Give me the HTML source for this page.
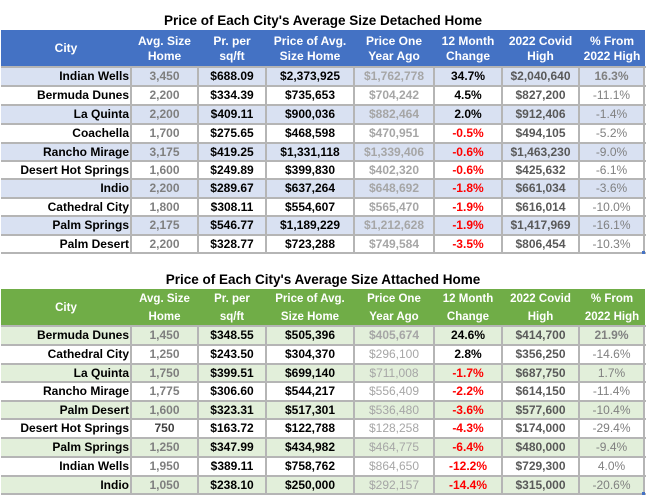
<!DOCTYPE html>
<html><head><meta charset="utf-8">
<style>
html,body{margin:0;padding:0}
body{width:647px;height:498px;background:#fff;position:relative;overflow:hidden;font-family:"Liberation Sans",Arial,sans-serif;}
.t{position:absolute;left:1px;width:644px;text-align:center;font-weight:bold;font-size:13.5px;line-height:16px;color:#000;white-space:nowrap}
.hdr{position:absolute;left:1px;width:644px;height:37px}
.hdr div{position:absolute;top:0;height:37px;display:flex;align-items:center;justify-content:center;text-align:center;color:#fff;font-weight:bold;white-space:nowrap}
.h1 div{font-size:12px;line-height:15px}
.h2 div{font-size:11.5px;line-height:17.5px;padding-top:2px;height:35px}
.r{position:absolute;left:1px;width:644px;font-size:12px;font-weight:bold}
.r span{position:absolute;top:0;text-align:center;white-space:nowrap}
.c0{left:0;width:128px;text-align:right!important;color:#000}
.c1{left:130px;width:67px;color:#7f7f7f}
.c2{left:197px;width:68px;color:#000}
.c3{left:265px;width:88px;color:#000}
.c4{left:353px;width:80px;color:#a6a6a6}
.c5{left:433px;width:68px;color:#000}
.c6{left:501px;width:77px;color:#595959}
.c7{left:578px;width:65px;color:#808080;font-weight:normal}
.neg{color:#ff0000!important}
.b{font-weight:bold!important}
.n{font-weight:normal!important}
.bl{background:#d9e1f2}
.gr{background:#e2efda}
.h{position:absolute;left:1px;width:645px;height:2px;background:#b5b5b5}
.v{position:absolute;width:2px;background:#b5b5b5}
.dot{position:absolute;width:3px;height:3px;background:#4472c4}
</style></head><body>

<div class="t" style="top:13px">Price of Each City's Average Size Detached Home</div>

<div class="hdr h1" style="top:30px;background:#4472c4">
<div style="left:0;width:130px">City</div>
<div style="left:130px;width:67px">Avg. Size<br>Home</div>
<div style="left:197px;width:68px">Pr. per<br>sq/ft</div>
<div style="left:265px;width:88px">Price of Avg.<br>Size Home</div>
<div style="left:353px;width:80px">Price One<br>Year Ago</div>
<div style="left:433px;width:68px">12 Month<br>Change</div>
<div style="left:501px;width:77px">2022 Covid<br>High</div>
<div style="left:578px;width:66px">% From<br>2022 High</div>
</div>

<div class="r bl" style="top:67px;height:19px;line-height:19px"><span class="c0">Indian Wells</span><span class="c1">3,450</span><span class="c2">$688.09</span><span class="c3">$2,373,925</span><span class="c4">$1,762,778</span><span class="c5">34.7%</span><span class="c6">$2,040,640</span><span class="c7 b">16.3%</span></div>
<div class="r" style="top:86px;height:19px;line-height:19px"><span class="c0">Bermuda Dunes</span><span class="c1">2,200</span><span class="c2">$334.39</span><span class="c3">$735,653</span><span class="c4">$704,242</span><span class="c5">4.5%</span><span class="c6">$827,200</span><span class="c7">-11.1%</span></div>
<div class="r bl" style="top:105px;height:19px;line-height:19px"><span class="c0">La Quinta</span><span class="c1">2,200</span><span class="c2">$409.11</span><span class="c3">$900,036</span><span class="c4">$882,464</span><span class="c5">2.0%</span><span class="c6">$912,406</span><span class="c7">-1.4%</span></div>
<div class="r" style="top:124px;height:19px;line-height:19px"><span class="c0">Coachella</span><span class="c1">1,700</span><span class="c2">$275.65</span><span class="c3">$468,598</span><span class="c4">$470,951</span><span class="c5 neg">-0.5%</span><span class="c6">$494,105</span><span class="c7">-5.2%</span></div>
<div class="r bl" style="top:143px;height:18px;line-height:18px"><span class="c0">Rancho Mirage</span><span class="c1">3,175</span><span class="c2">$419.25</span><span class="c3">$1,331,118</span><span class="c4">$1,339,406</span><span class="c5 neg">-0.6%</span><span class="c6">$1,463,230</span><span class="c7">-9.0%</span></div>
<div class="r" style="top:161px;height:18px;line-height:18px"><span class="c0">Desert Hot Springs</span><span class="c1">1,600</span><span class="c2">$249.89</span><span class="c3">$399,830</span><span class="c4">$402,320</span><span class="c5 neg">-0.6%</span><span class="c6">$425,632</span><span class="c7">-6.1%</span></div>
<div class="r bl" style="top:179px;height:19px;line-height:19px"><span class="c0">Indio</span><span class="c1">2,200</span><span class="c2">$289.67</span><span class="c3">$637,264</span><span class="c4">$648,692</span><span class="c5 neg">-1.8%</span><span class="c6">$661,034</span><span class="c7">-3.6%</span></div>
<div class="r" style="top:198px;height:18px;line-height:18px"><span class="c0">Cathedral City</span><span class="c1">1,800</span><span class="c2">$308.11</span><span class="c3">$554,607</span><span class="c4">$565,470</span><span class="c5 neg">-1.9%</span><span class="c6">$616,014</span><span class="c7">-10.0%</span></div>
<div class="r bl" style="top:216px;height:19px;line-height:19px"><span class="c0">Palm Springs</span><span class="c1">2,175</span><span class="c2">$546.77</span><span class="c3">$1,189,229</span><span class="c4">$1,212,628</span><span class="c5 neg">-1.9%</span><span class="c6">$1,417,969</span><span class="c7">-16.1%</span></div>
<div class="r" style="top:235px;height:18px;line-height:18px"><span class="c0">Palm Desert</span><span class="c1">2,200</span><span class="c2">$328.77</span><span class="c3">$723,288</span><span class="c4">$749,584</span><span class="c5 neg">-3.5%</span><span class="c6">$806,454</span><span class="c7">-10.3%</span></div>

<div class="h" style="top:66px"></div>
<div class="h" style="top:85px"></div>
<div class="h" style="top:104px"></div>
<div class="h" style="top:123px"></div>
<div class="h" style="top:142px"></div>
<div class="h" style="top:160px"></div>
<div class="h" style="top:178px"></div>
<div class="h" style="top:197px"></div>
<div class="h" style="top:215px"></div>
<div class="h" style="top:234px"></div>
<div class="h" style="top:252px"></div>
<div class="v" style="left:130px;top:67px;height:187px"></div>
<div class="v" style="left:197px;top:67px;height:187px"></div>
<div class="v" style="left:265px;top:67px;height:187px"></div>
<div class="v" style="left:353px;top:67px;height:187px"></div>
<div class="v" style="left:433px;top:67px;height:187px"></div>
<div class="v" style="left:501px;top:67px;height:187px"></div>
<div class="v" style="left:578px;top:67px;height:187px"></div>
<div class="v" style="left:643px;top:67px;height:187px"></div>
<div class="dot" style="left:642px;top:251px"></div>

<div class="t" style="top:272px">Price of Each City's Average Size Attached Home</div>

<div class="hdr h2" style="top:289px;background:#70ad47">
<div style="left:0;width:130px">City</div>
<div style="left:130px;width:67px">Avg. Size<br>Home</div>
<div style="left:197px;width:68px">Pr. per<br>sq/ft</div>
<div style="left:265px;width:88px">Price of Avg.<br>Size Home</div>
<div style="left:353px;width:80px">Price One<br>Year Ago</div>
<div style="left:433px;width:68px">12 Month<br>Change</div>
<div style="left:501px;width:77px">2022 Covid<br>High</div>
<div style="left:578px;width:66px">% From<br>2022 High</div>
</div>

<div class="r gr" style="top:326px;height:19px;line-height:19px"><span class="c0">Bermuda Dunes</span><span class="c1">1,450</span><span class="c2">$348.55</span><span class="c3">$505,396</span><span class="c4">$405,674</span><span class="c5">24.6%</span><span class="c6">$414,700</span><span class="c7 b">21.9%</span></div>
<div class="r" style="top:345px;height:19px;line-height:19px"><span class="c0">Cathedral City</span><span class="c1">1,250</span><span class="c2">$243.50</span><span class="c3">$304,370</span><span class="c4 n">$296,100</span><span class="c5">2.8%</span><span class="c6">$356,250</span><span class="c7">-14.6%</span></div>
<div class="r gr" style="top:364px;height:18px;line-height:18px"><span class="c0">La Quinta</span><span class="c1">1,750</span><span class="c2">$399.51</span><span class="c3">$699,140</span><span class="c4 n">$711,008</span><span class="c5 neg">-1.7%</span><span class="c6">$687,750</span><span class="c7">1.7%</span></div>
<div class="r" style="top:382px;height:19px;line-height:19px"><span class="c0">Rancho Mirage</span><span class="c1">1,775</span><span class="c2">$306.60</span><span class="c3">$544,217</span><span class="c4 n">$556,409</span><span class="c5 neg">-2.2%</span><span class="c6">$614,150</span><span class="c7">-11.4%</span></div>
<div class="r gr" style="top:401px;height:18px;line-height:18px"><span class="c0">Palm Desert</span><span class="c1">1,600</span><span class="c2">$323.31</span><span class="c3">$517,301</span><span class="c4 n">$536,480</span><span class="c5 neg">-3.6%</span><span class="c6">$577,600</span><span class="c7">-10.4%</span></div>
<div class="r" style="top:419px;height:19px;line-height:19px"><span class="c0">Desert Hot Springs</span><span class="c1" style="color:#404040">750</span><span class="c2">$163.72</span><span class="c3">$122,788</span><span class="c4 n">$128,258</span><span class="c5 neg">-4.3%</span><span class="c6">$174,000</span><span class="c7">-29.4%</span></div>
<div class="r gr" style="top:438px;height:19px;line-height:19px"><span class="c0">Palm Springs</span><span class="c1">1,250</span><span class="c2">$347.99</span><span class="c3">$434,982</span><span class="c4 n">$464,775</span><span class="c5 neg">-6.4%</span><span class="c6">$480,000</span><span class="c7">-9.4%</span></div>
<div class="r" style="top:457px;height:19px;line-height:19px"><span class="c0">Indian Wells</span><span class="c1">1,950</span><span class="c2">$389.11</span><span class="c3">$758,762</span><span class="c4 n">$864,650</span><span class="c5 neg">-12.2%</span><span class="c6">$729,300</span><span class="c7">4.0%</span></div>
<div class="r gr" style="top:476px;height:18px;line-height:18px"><span class="c0">Indio</span><span class="c1">1,050</span><span class="c2">$238.10</span><span class="c3">$250,000</span><span class="c4 n">$292,157</span><span class="c5 neg">-14.4%</span><span class="c6">$315,000</span><span class="c7">-20.6%</span></div>

<div class="h" style="top:325px"></div>
<div class="h" style="top:344px"></div>
<div class="h" style="top:363px"></div>
<div class="h" style="top:381px"></div>
<div class="h" style="top:400px"></div>
<div class="h" style="top:418px"></div>
<div class="h" style="top:437px"></div>
<div class="h" style="top:456px"></div>
<div class="h" style="top:475px"></div>
<div class="h" style="top:493px"></div>
<div class="v" style="left:130px;top:326px;height:169px"></div>
<div class="v" style="left:197px;top:326px;height:169px"></div>
<div class="v" style="left:265px;top:326px;height:169px"></div>
<div class="v" style="left:353px;top:326px;height:169px"></div>
<div class="v" style="left:433px;top:326px;height:169px"></div>
<div class="v" style="left:501px;top:326px;height:169px"></div>
<div class="v" style="left:578px;top:326px;height:169px"></div>
<div class="v" style="left:643px;top:326px;height:169px"></div>
<div class="dot" style="left:642px;top:492px"></div>

</body></html>
